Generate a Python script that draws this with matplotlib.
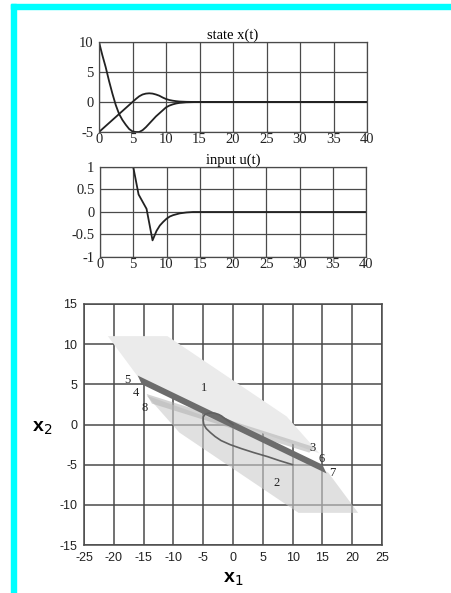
import matplotlib
matplotlib.use("Agg")
import matplotlib.pyplot as plt
from matplotlib.patches import Polygon, Rectangle

plt.rcParams['axes.unicode_minus'] = False

# state trajectory x(t)
t_x = [0, 0.5, 1, 1.5, 2, 2.5, 3, 3.5, 4, 4.5, 5, 5.5, 6, 6.5, 7, 7.5, 8, 8.5,
       9, 9.5, 10, 10.5, 11, 11.5, 12, 13, 14, 15, 40]
x1 = [10, 7.8, 5.8, 3.5, 1.4, -0.5, -2.0, -3.0, -3.8, -4.5, -4.9, -5.0, -5.0, -4.7,
      -4.2, -3.6, -3.0, -2.4, -1.9, -1.4, -0.9, -0.6, -0.4, -0.25, -0.15, -0.05, -0.02, 0, 0]
x2 = [-5, -4.5, -4, -3.5, -3, -2.5, -2, -1.5, -1, -0.5, 0, 0.5, 0.95, 1.25, 1.4, 1.45,
      1.4, 1.25, 1.05, 0.75, 0.5, 0.33, 0.22, 0.14, 0.08, 0.03, 0.01, 0, 0]

# input u(t)
t_u = [0, 5, 5.8, 7, 7.9, 8.5, 9, 9.5, 10, 10.5, 11, 12, 13, 14, 15, 40]
u = [1, 1, 0.39, 0.07, -0.63, -0.42, -0.3, -0.22, -0.15, -0.1, -0.07, -0.03, -0.01, 0, 0, 0]

# polyhedral regions in the (x1, x2) plane
region1_x = [-21, -11, 9, 14.5, -0.4, -16]
region1_y = [11, 11, 1, -3.6, 0.3, 6]
region2_x = [21, 11, -9, -14.5, 0.4, 16]
region2_y = [-11, -11, -1, 3.6, -0.3, -6]
strip_x = [-14.5, 13.6, 12.8, -13.6]
strip_y = [3.8, -2.8, -3.5, 2.6]
band_x = [-16, 15, 15.7, -15.3]
band_y = [6.1, -5.0, -6.1, 5.0]

labels = ['1', '2', '3', '4', '5', '6', '7', '8']
label_x = [-4.8, 7.3, 13.3, -16.3, -17.8, 14.9, 16.6, -14.8]
label_y = [4.5, -7.3, -2.9, 3.9, 5.5, -4.3, -6.0, 2.1]

serif = 'Liberation Serif'
sans = 'Liberation Sans'
grid_col = '#4a4a4a'

fig = plt.figure(figsize=(4.51, 5.93), dpi=100)

# cyan frame on top and left
fig.patches.append(Rectangle((11 / 451, 1 - 9 / 593), 1, 5 / 593, transform=fig.transFigure,
                             color='#00ffff', zorder=0))
fig.patches.append(Rectangle((11 / 451, 0), 5 / 451, 1 - 4 / 593, transform=fig.transFigure,
                             color='#00ffff', zorder=0))


def small_axes(rect, title, xlim, ylim, yticks, yticklabels):
    ax = fig.add_axes(rect)
    ax.set_xlim(*xlim)
    ax.set_ylim(*ylim)
    ax.set_xticks(range(0, 41, 5))
    ax.set_yticks(yticks)
    ax.set_yticklabels(yticklabels)
    ax.grid(True, color=grid_col, linewidth=0.9)
    ax.tick_params(length=0, labelsize=10.5, colors='#222222')
    ax.tick_params(axis='x', pad=1)
    ax.tick_params(axis='y', pad=4)
    for lab in ax.get_xticklabels() + ax.get_yticklabels():
        lab.set_fontfamily(serif)
    for s in ax.spines.values():
        s.set_color(grid_col)
        s.set_linewidth(0.9)
    ax.set_title(title, fontfamily=serif, fontsize=10.5, pad=2)
    return ax


ax1 = small_axes([99 / 451, 1 - 132 / 593, 268 / 451, 90 / 593], 'state x(t)',
                 (0, 40), (-5, 10), [-5, 0, 5, 10], ['-5', '0', '5', '10'])
ax1.plot(t_x, x1, color='#222222', linewidth=1.3)
ax1.plot(t_x, x2, color='#222222', linewidth=1.3)

ax2 = small_axes([100 / 451, 1 - 257 / 593, 266 / 451, 90 / 593], 'input u(t)',
                 (0, 40), (-1, 1), [-1, -0.5, 0, 0.5, 1], ['-1', '-0.5', '0', '0.5', '1'])
ax2.plot(t_u, u, color='#222222', linewidth=1.3)

# phase plane with regions
ax3 = fig.add_axes([84 / 451, 1 - 545 / 593, 298 / 451, 241 / 593])
ax3.set_xlim(-25, 25)
ax3.set_ylim(-15, 15)
ax3.set_xticks(range(-25, 26, 5))
ax3.set_yticks(range(-15, 16, 5))
ax3.grid(True, color=grid_col, linewidth=1.1)
ax3.set_axisbelow(True)
ax3.tick_params(length=0, pad=5, labelsize=9, colors='#222222')
for lab in ax3.get_xticklabels() + ax3.get_yticklabels():
    lab.set_fontfamily(sans)
for s in ax3.spines.values():
    s.set_color(grid_col)
    s.set_linewidth(1.1)

ax3.add_patch(Polygon(list(zip(region1_x, region1_y)), closed=True,
                      facecolor='#ebebeb', edgecolor='none', zorder=2))
ax3.add_patch(Polygon(list(zip(region2_x, region2_y)), closed=True,
                      facecolor='#cccccc', alpha=0.6, edgecolor='none', zorder=2))
ax3.add_patch(Polygon(list(zip(strip_x, strip_y)), closed=True,
                      facecolor='#b0b0b0', alpha=0.55, edgecolor='none', zorder=3))
ax3.add_patch(Polygon(list(zip(band_x, band_y)), closed=True,
                      facecolor='#6c6c6c', edgecolor='none', zorder=4))
ax3.plot(x1, x2, color='#606060', linewidth=1.2, zorder=5)

for lab, lx, ly in zip(labels, label_x, label_y):
    ax3.text(lx, ly, lab, fontfamily=serif, fontsize=9, ha='center', va='center',
             color='#222222', zorder=6)

ax3.set_xlabel('x$_1$', fontfamily=sans, fontsize=14, fontweight='bold', labelpad=5)
ax3.set_ylabel('x$_2$', fontfamily=sans, fontsize=14, fontweight='bold', rotation=0)
ax3.yaxis.set_label_coords(-0.14, 0.45)

fig.savefig('out.png', dpi=100)
